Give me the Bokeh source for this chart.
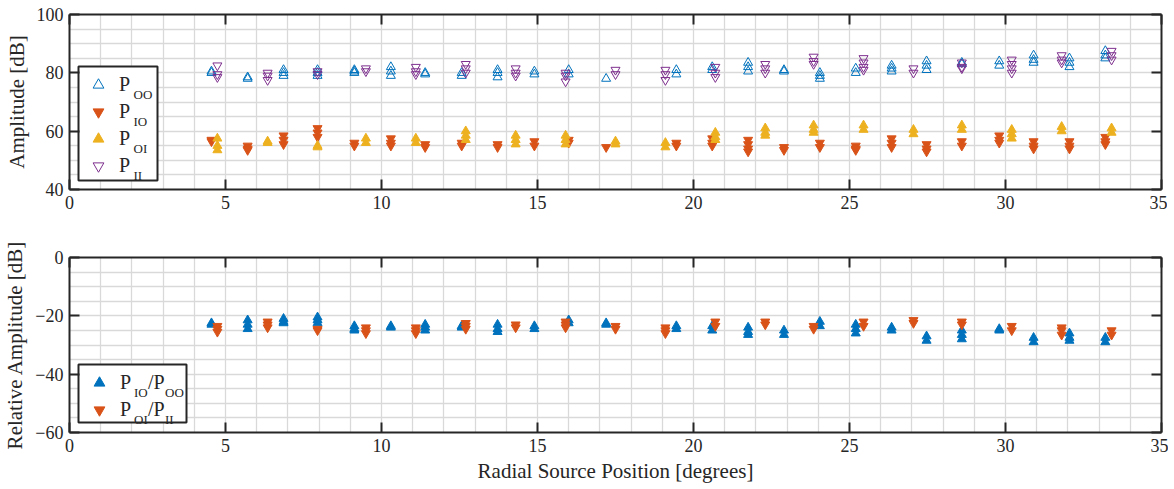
from bokeh.plotting import figure
from bokeh.models import (Range1d, LinearAxis, FixedTicker, SingleIntervalTicker,
                          Legend, LegendItem, Label, BoxAnnotation)
from bokeh.layouts import column
from bokeh.embed import file_html
from bokeh.resources import INLINE

# ---------------- data ----------------
outer_pos = [4.55, 5.71, 6.86, 7.95, 9.13, 10.3, 11.4, 12.57, 13.72, 14.9, 16.0, 17.2,
             19.45, 20.6, 21.75, 22.9, 24.05, 25.2, 26.35, 27.47, 28.6, 29.8, 30.9, 32.05, 33.2]
inner_pos = [4.74, 6.35, 7.95, 9.5, 11.1, 12.7, 14.3, 15.9, 17.5, 19.1, 20.7, 22.3,
             23.85, 25.45, 27.05, 28.6, 30.2, 31.8, 33.4]

p_oo = [[80.5, 80], [78.5, 78], [81, 80, 79], [81, 80, 79], [81, 80.5, 80], [82, 80.5, 79],
        [80, 79.5], [80, 79], [81, 80, 78.5], [80.5, 79.5], [81, 79.5], [78], [81, 79.5],
        [82, 81], [83.5, 82, 80.5], [81, 80.5], [80, 79, 78], [81.5, 80], [82.5, 81.5, 80.5],
        [84, 82.5, 81], [83.5, 83], [84, 82.5], [86, 84.5, 83.5], [85, 83.5, 82], [87.5, 86, 85]]
p_io = [[57, 56.5], [55, 54, 53.5], [58.5, 57, 55.5], [61, 59.5, 58], [56, 55], [57.5, 56, 55],
        [55.5, 54.5], [56, 55], [55.5, 54.5], [56.5, 55], [57, 56], [54.5], [56, 55],
        [57.5, 56, 55], [57, 55.5, 54, 53], [54.5, 53.5], [56, 54.5], [55, 54, 53.5],
        [57.5, 56, 54.5], [55.5, 54, 53], [56.5, 55], [58.5, 57, 56], [56.5, 55, 54],
        [56.5, 55, 54], [58, 56.5, 55.5]]
p_oi = [[57.5, 55, 53.5], [56.5, 56], [55, 54.5], [57.5, 56], [57.5, 56], [60, 58.5, 57],
        [58.5, 57, 55.5], [58.5, 57, 55.5], [56.5, 55.5], [56, 54.5], [59.5, 58, 57],
        [61, 59.5, 58.5], [62, 60.5, 59.5], [62, 60.5], [60.5, 59], [62, 60.5],
        [60.5, 59, 57.5], [61.5, 60], [61, 59.5]]
p_ii = [[82.5, 79.5, 78.5], [80, 79, 77.5], [80.5, 79.5], [81.5, 80.5], [82, 80.5, 79.5],
        [83, 81.5, 80], [81.5, 80, 79], [80, 79, 77], [81, 79.5], [81, 79.5, 77.5],
        [82, 80, 78.5], [83, 81.5, 80], [85.5, 84, 83], [85, 83.5, 82, 81], [81.5, 80],
        [83.5, 82, 81.5], [84.5, 83, 81.5, 80], [86, 84.5, 83.5], [87.5, 86, 84.5]]

rel_io_oo = [[-22.5, -23], [-21.5, -23, -24.5], [-21, -22, -22.5], [-20.5, -21.5, -22.5],
             [-23.5, -24.5, -25], [-23.5, -24], [-23, -24, -25], [-23.5, -24],
             [-23, -24.5, -25.5], [-23.5, -24.5], [-21.5, -22.5], [-22.5, -23],
             [-23.5, -24.5], [-23.5, -25], [-24, -25.5, -26.5], [-25, -26.5], [-22, -23.5],
             [-23, -24.5, -26], [-24, -25], [-27, -28.5], [-25, -26.5, -28], [-24.5, -25],
             [-27.5, -29], [-26, -27.5, -28.5], [-27.5, -29]]
rel_oi_ii = [[-23.5, -24.5, -25.5], [-22, -23, -24], [-24.5, -25], [-24, -25, -26],
             [-24, -25, -26], [-22.5, -23.5, -24.5], [-23, -24], [-22, -23, -24],
             [-23.5, -24.5], [-24, -25, -26], [-22, -23.5], [-22, -23], [-23.5, -24.5],
             [-22, -23.5], [-21.5, -22.5], [-22, -23], [-23.5, -25], [-24, -25, -26.5],
             [-25, -26.5]]

x_ticks = [0, 5, 10, 15, 20, 25, 30, 35]
top_y_ticks = [40, 60, 80, 100]
bot_y_ticks = [-60, -40, -20, 0]


def flat(pos, groups):
    xs, ys = [], []
    for x, g in zip(pos, groups):
        for v in g:
            xs.append(x)
            ys.append(v)
    return xs, ys


# ---------------- style ----------------
FONT = "Liberation Serif"
AX = "#262626"
C_BLUE, C_RED, C_YEL, C_PUR = "#0072BD", "#D95319", "#EDB120", "#7E2F8E"
FW, FH = 1092, 175          # frame size in px
FL = 67                     # frame left (page px)
TOP_FT, BOT_FT = 14, 257    # frame tops (page px)


def dx(px):
    return (px - FL) / FW * 35


def dy_top(py):
    return 100 - (py - TOP_FT) / FH * 60


def dy_bot(py):
    return 0 - (py - BOT_FT) / FH * 60


def make_fig(y0, y1, yticks, ylabel, xlabel, b_top, b_bottom):
    p = figure(frame_width=FW, frame_height=FH, x_range=Range1d(0, 35), y_range=Range1d(y0, y1),
               output_backend="svg", toolbar_location=None,
               min_border_left=65, min_border_right=7, min_border_top=b_top,
               min_border_bottom=b_bottom)
    p.outline_line_color = None
    p.background_fill_color = "white"
    p.border_fill_color = "white"
    p.xaxis.ticker = FixedTicker(ticks=x_ticks)
    p.yaxis.ticker = FixedTicker(ticks=yticks)
    for ax in (p.xaxis[0], p.yaxis[0]):
        ax.axis_line_color = AX
        ax.axis_line_width = 2
        ax.major_tick_line_color = AX
        ax.major_tick_line_width = 2
        ax.major_tick_in = 10
        ax.major_tick_out = 0
        ax.minor_tick_line_color = None
        ax.major_label_text_font = FONT
        ax.major_label_text_font_size = "18px"
        ax.major_label_text_color = AX
        ax.axis_label_text_font = FONT
        ax.axis_label_text_font_size = "21px"
        ax.axis_label_text_font_style = "normal"
        ax.axis_label_text_color = AX
    p.xaxis.major_label_standoff = 6
    p.yaxis.major_label_standoff = 6
    p.yaxis.axis_label = ylabel
    p.yaxis.axis_label_standoff = 5
    if xlabel:
        p.xaxis.axis_label = xlabel
        p.xaxis.axis_label_standoff = 4
    for loc, tk in (("above", x_ticks), ("right", yticks)):
        a = LinearAxis(ticker=FixedTicker(ticks=tk), major_label_text_font_size="0px",
                       major_label_text_color=None, major_label_text_alpha=0,
                       major_label_standoff=0, major_tick_in=10, major_tick_out=0,
                       major_tick_line_width=2, major_tick_line_color=AX,
                       minor_tick_line_color=None, axis_line_color=AX, axis_line_width=2)
        p.add_layout(a, loc)
    p.xgrid.ticker = SingleIntervalTicker(interval=1)
    p.ygrid.ticker = SingleIntervalTicker(interval=5)
    for g in (p.xgrid[0], p.ygrid[0]):
        g.grid_line_color = "#d9d9d9"
        g.grid_line_width = 1.3
    return p


def legend_box(p, l, r, t, b):
    p.add_layout(BoxAnnotation(left=l, right=r, top=t, bottom=b, fill_color="white",
                               fill_alpha=1, line_color=AX, line_width=2, line_alpha=1,
                               level="underlay"))


def text_label(p, x, y, text, size="13px", baseline="alphabetic"):
    p.add_layout(Label(x=x, y=y, text=text, text_font=FONT, text_font_size=size,
                       text_color=AX, text_baseline=baseline, level="overlay"))


def make_legend(renderers, loc, pad, gw, lw, standoff):
    return Legend(items=[LegendItem(label="P", renderers=[r]) for r in renderers],
                  location=loc, orientation="vertical", padding=pad, spacing=0, margin=0,
                  glyph_width=gw, glyph_height=27, label_height=27, label_width=lw,
                  label_standoff=standoff, label_text_font=FONT, label_text_font_size="20px",
                  label_text_color=AX, border_line_color=None, background_fill_alpha=0)


# ---------------- top figure ----------------
top = make_fig(40, 100, top_y_ticks, "Amplitude [dB]", None, 14, 40)
legend_box(top, dx(76), dx(155), dy_top(66), dy_top(180))
x, y = flat(outer_pos, p_oo)
r_oo = top.scatter(x, y, marker="triangle", size=9, fill_color=None, line_color=C_BLUE, line_width=1)
x, y = flat(outer_pos, p_io)
r_io = top.scatter(x, y, marker="inverted_triangle", size=9, fill_color=C_RED, line_color=C_RED)
x, y = flat(inner_pos, p_oi)
r_oi = top.scatter(x, y, marker="triangle", size=9, fill_color=C_YEL, line_color=C_YEL)
x, y = flat(inner_pos, p_ii)
r_ii = top.scatter(x, y, marker="inverted_triangle", size=9, fill_color=None, line_color=C_PUR, line_width=1)

top.add_layout(make_legend((r_oo, r_io, r_oi, r_ii), (9, 10), 3, 40, 32, 1))

sub_top = ["OO", "IO", "OI", "II"]
row_top = [83, 110, 137, 164]
for s, c in zip(sub_top, row_top):
    text_label(top, dx(131), dy_top(c + 11), s)

# ---------------- bottom figure ----------------
bot = make_fig(-60, 0, bot_y_ticks, "Relative Amplitude [dB]",
               "Radial Source Position [degrees]", 28, 49)
legend_box(bot, dx(76), dx(184), dy_bot(364), dy_bot(422))
x, y = flat(outer_pos, rel_io_oo)
r1 = bot.scatter(x, y, marker="triangle", size=9, fill_color=C_BLUE, line_color=C_BLUE)
x, y = flat(inner_pos, rel_oi_ii)
r2 = bot.scatter(x, y, marker="inverted_triangle", size=9, fill_color=C_RED, line_color=C_RED)

bot.add_layout(make_legend((r1, r2), (9, 9), 2, 42, 62, 0))

rows = [("IO", "OO"), ("OI", "II")]
row_bot = [381, 408]
for (s1, s2), c in zip(rows, row_bot):
    text_label(bot, dx(131.5), dy_bot(c + 11), s1)
    text_label(bot, dx(145.5), dy_bot(c), "/P", size="20px", baseline="middle")
    text_label(bot, dx(162.5), dy_bot(c + 11), s2)

layout = column(top, bot, spacing=0)
open("out.html", "w").write(file_html(layout, INLINE))
